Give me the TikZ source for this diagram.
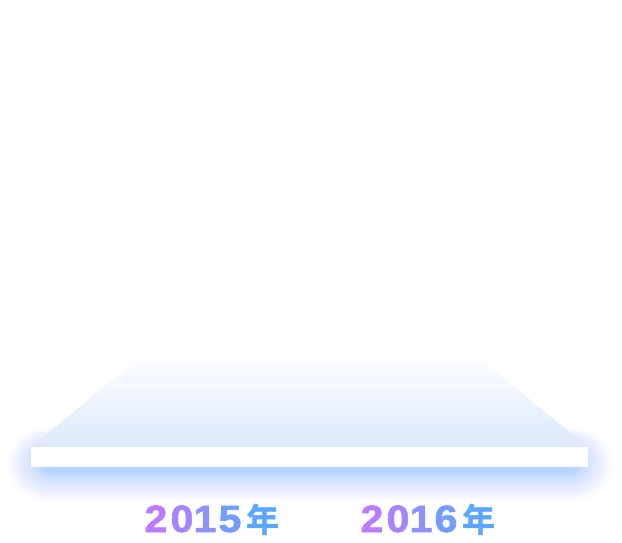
\documentclass[tikz,border=0pt]{standalone}
\usepackage{fontspec}
\newfontfamily\cjk{Noto Sans CJK SC Bold}[FakeBold=1.2]
\newfontfamily\digfont{Liberation Sans Bold}[FakeBold=1.6]
\definecolor{glowc}{HTML}{78B0FF}
\definecolor{trtop}{HTML}{FBFCFF}
\definecolor{trbot}{HTML}{DDE9FC}
\definecolor{ca}{HTML}{BB7BFF}
\definecolor{cb}{HTML}{A585FD}
\definecolor{cc}{HTML}{8F91FD}
\definecolor{cd}{HTML}{749CFE}
\definecolor{ce}{HTML}{5CA6FF}
\begin{document}
\begin{tikzpicture}[x=1pt,y=-1pt,
  yrdig/.style={anchor=base, inner sep=0pt, xscale=1.08, font=\digfont\fontsize{38}{38}\selectfont},
  yrchar/.style={anchor=base, inner sep=0pt, font=\cjk\fontsize{33}{33}\selectfont}]
\useasboundingbox (0,0) rectangle (622,542);
\fill[white] (0,0) rectangle (622,542);
% glow
\foreach \i in {0,...,34}{
  \pgfmathsetmacro{\d}{\i*(0.4+0.016*\i)}
  \fill[glowc, opacity=0.015, rounded corners={(8+\d)*1pt}]
    ({42-1.1*\d},{452-0.75*\d}) rectangle ({578+1.1*\d},{472+0.9*\d});
}
% platform top
\shade[top color=trtop, bottom color=trbot] (134,362) -- (484,362) -- (588,447) -- (31,447) -- cycle;
% slab
\fill[white] (31,447) rectangle (588,466.5);
% labels
\node[yrdig, text=ca] (a1) at (156,532) {2};
\node[yrdig, text=cb] (a2) at (182,532) {0};
\node[yrdig, text=cc] (a3) at (205,532) {1};
\node[yrdig, text=cd] (a4) at (230,532) {5};
\node[yrchar, text=ce] (a5) at (262.5,532) {年};
\node[yrdig, text=ca] (b1) at (372,532) {2};
\node[yrdig, text=cb] (b2) at (398,532) {0};
\node[yrdig, text=cc] (b3) at (421,532) {1};
\node[yrdig, text=cd] (b4) at (446,532) {6};
\node[yrchar, text=ce] (b5) at (478.5,532) {年};
\end{tikzpicture}
\end{document}
